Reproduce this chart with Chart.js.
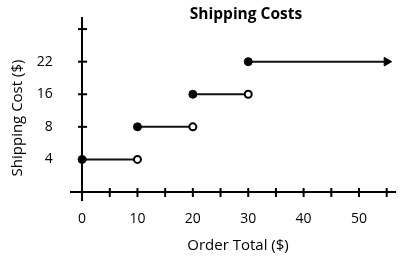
<!DOCTYPE html>
<html>
<head>
<meta charset="utf-8">
<script src="https://cdn.jsdelivr.net/npm/chart.js@4.4.1/dist/chart.umd.min.js"></script>
<style>
    html, body { margin: 0; padding: 0; background: #fff; }
    #wrap { width: 415px; height: 265px; }
</style>
</head>
<body>
<div id="wrap"><canvas id="chart"></canvas></div>
<script>
// step function: each cost holds from its start up to (not including) its end
let orderStarts = [0, 10, 20, 30];
let orderEnds = [10, 20, 30, 55];
let costLabels = ['4', '8', '16', '22'];
let xTickLabels = [0, 10, 20, 30, 40, 50];
let xMarks = [0, 5, 10, 15, 20, 25, 30, 35, 40, 45, 50, 55];
let yMarks = [0, 1, 2, 3, 4, 5];

let font = 'Open Sans';

let datasets = orderStarts.map((start, i) => {
    let last = i == orderStarts.length - 1;
    return {
        data: [{x: start, y: i + 1}, {x: orderEnds[i], y: i + 1}],
        borderColor: '#111',
        borderWidth: 2,
        pointStyle: ['circle', last ? 'triangle' : 'circle'],
        pointRadius: [4, last ? 5 : 3.5],
        pointRotation: [0, 90],
        pointBackgroundColor: ['#000', last ? '#000' : '#fff'],
        pointBorderColor: '#000',
        pointBorderWidth: [1, last ? 1 : 2],
        showLine: true
    };
});

let crossTicks = {
    id: 'crossTicks',
    afterDraw(chart) {
        let ctx = chart.ctx;
        let x = chart.scales.x;
        let y = chart.scales.y;
        let x0 = x.getPixelForValue(0);
        let y0 = y.getPixelForValue(0);
        ctx.save();
        ctx.strokeStyle = '#000';
        ctx.lineWidth = 2;
        xMarks.forEach(v => {
            let px = x.getPixelForValue(v);
            ctx.beginPath();
            ctx.moveTo(px, y0 - 4);
            ctx.lineTo(px, y0 + 5);
            ctx.stroke();
        });
        yMarks.forEach(v => {
            let py = y.getPixelForValue(v);
            ctx.beginPath();
            ctx.moveTo(x0 - 4, py);
            ctx.lineTo(x0 + 5, py);
            ctx.stroke();
        });

        ctx.fillStyle = '#000';
        ctx.textAlign = 'center';
        ctx.textBaseline = 'middle';
        ctx.font = 'bold 15.5px "' + font + '"';
        ctx.fillText('Shipping Costs', 246, 15);
        ctx.font = '15px "' + font + '"';
        ctx.fillText('Order Total ($)', 238, 246);
        ctx.translate(18, 118);
        ctx.rotate(-Math.PI / 2);
        ctx.fillText('Shipping Cost ($)', 0, 0);
        ctx.restore();
    }
};

new Chart(document.getElementById('chart'), {
    type: 'scatter',
    data: { datasets: datasets },
    options: {
        responsive: true,
        maintainAspectRatio: false,
        animation: false,
        layout: { padding: { left: 71, right: 20, top: 18, bottom: 65 } },
        plugins: {
            legend: { display: false },
            tooltip: { enabled: false },
            title: { display: false }
        },
        scales: {
            x: {
                type: 'linear',
                min: -2,
                max: 56.5,
                position: { y: 0 },
                grid: { display: false, drawTicks: false },
                border: { display: true, color: '#000', width: 2 },
                afterBuildTicks: scale => {
                    scale.ticks = xTickLabels.map(v => ({ value: v }));
                },
                ticks: {
                    color: '#000',
                    padding: 19,
                    font: { family: font, size: 14 }
                }
            },
            y: {
                type: 'linear',
                min: -0.245,
                max: 5.34,
                position: { x: 0 },
                grid: { display: false, drawTicks: false },
                border: { display: true, color: '#000', width: 2 },
                ticks: { display: false }
            },
            yLabels: {
                type: 'linear',
                axis: 'y',
                min: -0.245,
                max: 5.34,
                position: { x: -5.3 },
                grid: { display: false, drawTicks: false },
                border: { display: false },
                afterBuildTicks: scale => {
                    scale.ticks = costLabels.map((c, i) => ({ value: i + 1 }));
                },
                ticks: {
                    color: '#000',
                    font: { family: font, size: 14 },
                    callback: v => costLabels[v - 1]
                }
            }
        }
    },
    plugins: [crossTicks]
});
</script>
</body>
</html>
